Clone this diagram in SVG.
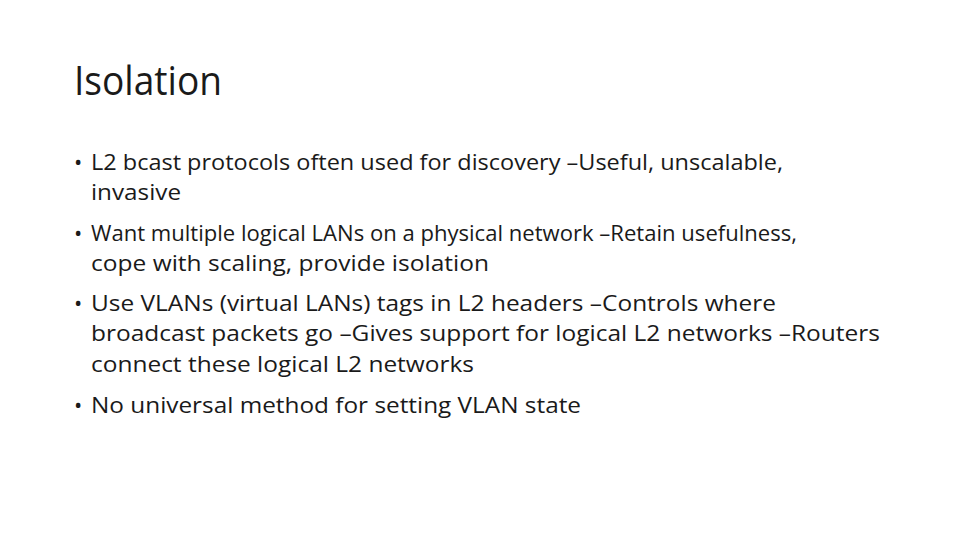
<svg xmlns="http://www.w3.org/2000/svg" width="960" height="540" viewBox="0 0 960 540">
<style>
.t{font-family:"Open Sans","Liberation Sans",sans-serif;fill:#1a1a1a}
.h{font-size:40px}
.b{font-size:22px}
</style>
<rect width="960" height="540" fill="#fff"/>
<g id="title"><text class="t h" x="74" y="95" textLength="148" lengthAdjust="spacingAndGlyphs">Isolation</text></g>
<g id="body">
<text class="t b" x="74" y="170">•</text>
<text class="t b" x="91" y="170" textLength="692" lengthAdjust="spacingAndGlyphs">L2 bcast protocols often used for discovery –Useful, unscalable,</text>
<text class="t b" x="91" y="200" textLength="90" lengthAdjust="spacingAndGlyphs">invasive</text>
<text class="t b" x="74" y="241">•</text>
<text class="t b" x="91" y="241" textLength="706" lengthAdjust="spacingAndGlyphs">Want multiple logical LANs on a physical network –Retain usefulness,</text>
<text class="t b" x="91" y="271" textLength="398" lengthAdjust="spacingAndGlyphs">cope with scaling, provide isolation</text>
<text class="t b" x="74" y="311">•</text>
<text class="t b" x="91" y="311" textLength="685" lengthAdjust="spacingAndGlyphs">Use VLANs (virtual LANs) tags in L2 headers –Controls where</text>
<text class="t b" x="91" y="341" textLength="789" lengthAdjust="spacingAndGlyphs">broadcast packets go –Gives support for logical L2 networks –Routers</text>
<text class="t b" x="91" y="372" textLength="383" lengthAdjust="spacingAndGlyphs">connect these logical L2 networks</text>
<text class="t b" x="74" y="413">•</text>
<text class="t b" x="91" y="413" textLength="490" lengthAdjust="spacingAndGlyphs">No universal method for setting VLAN state</text>
</g>
</svg>
